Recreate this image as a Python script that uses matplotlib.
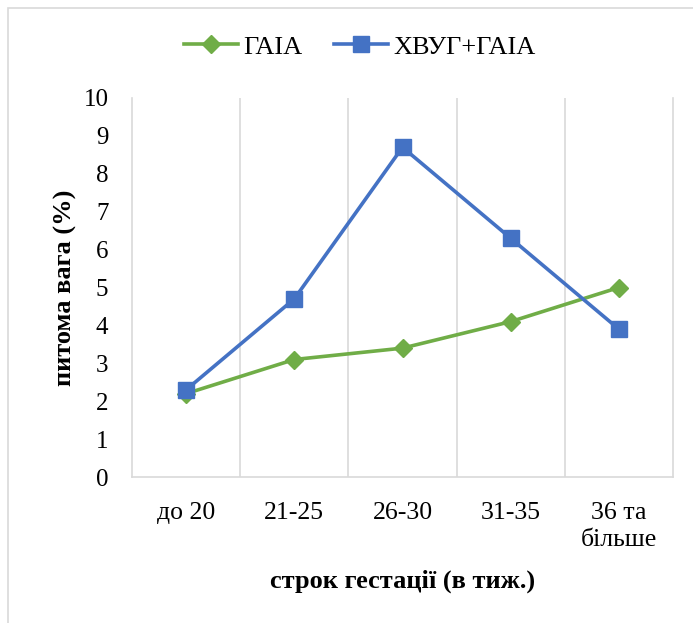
import matplotlib as mpl
import matplotlib.pyplot as plt
from matplotlib.patches import Rectangle

mpl.rcParams["font.family"] = ["Liberation Serif", "DejaVu Serif"]

categories = ["до 20", "21-25", "26-30", "31-35", "36 та\nбільше"]
gaia = [2.2, 3.1, 3.4, 4.1, 5.0]
hvug_gaia = [2.3, 4.7, 8.7, 6.3, 3.9]
yticks = list(range(0, 11))

dpi = 100
fig = plt.figure(figsize=(6.93, 6.23), dpi=dpi)
ax = fig.add_axes([132 / 693, 1 - 477 / 623, 541 / 693, 379 / 623])

# outer chart frame (right/bottom edges fall outside the picture)
fig.patches.append(Rectangle((8 / 693, -0.1), 1.1, (1 - 8 / 623) + 0.1,
                             transform=fig.transFigure, fill=False,
                             edgecolor="#D9D9D9", linewidth=1.2))

x = list(range(len(categories)))
ax.plot(x, gaia, color="#70AD47", linewidth=2.6, marker="D", markersize=9.5,
        label="ГАІА")
ax.plot(x, hvug_gaia, color="#4472C4", linewidth=2.6, marker="s", markersize=12,
        label="ХВУГ+ГАІА")

ax.set_xlim(-0.5, len(categories) - 0.5)
ax.set_ylim(0, 10)
ax.set_yticks(yticks)
ax.set_xticks(x)
ax.set_xticklabels(categories, fontsize=18.5, linespacing=1.3)
ax.tick_params(axis="y", length=0, labelsize=18, pad=17)
ax.tick_params(axis="x", length=0, labelsize=18.5, pad=18)

# vertical gridlines at category boundaries
for b in [i + 0.5 for i in x[:-1]]:
    ax.axvline(b, color="#D9D9D9", linewidth=1.2, zorder=0)

for s in ["left", "right", "bottom"]:
    ax.spines[s].set_color("#D9D9D9")
    ax.spines[s].set_linewidth(1.2)
ax.spines["top"].set_visible(False)

ax.set_xlabel("строк гестації (в тиж.)", fontsize=19, fontweight="bold")
ax.set_ylabel("питома вага (%)", fontsize=19, fontweight="bold")
ax.xaxis.set_label_coords(0.5, -0.243)
ax.yaxis.set_label_coords(-0.102, 0.5)

fig.legend(loc="center", bbox_to_anchor=(360 / 693, 1 - 47 / 623), ncol=2,
           frameon=False, fontsize=19, handlelength=2.05, columnspacing=1.2,
           handletextpad=0.2)

fig.savefig("out.png", dpi=dpi)
